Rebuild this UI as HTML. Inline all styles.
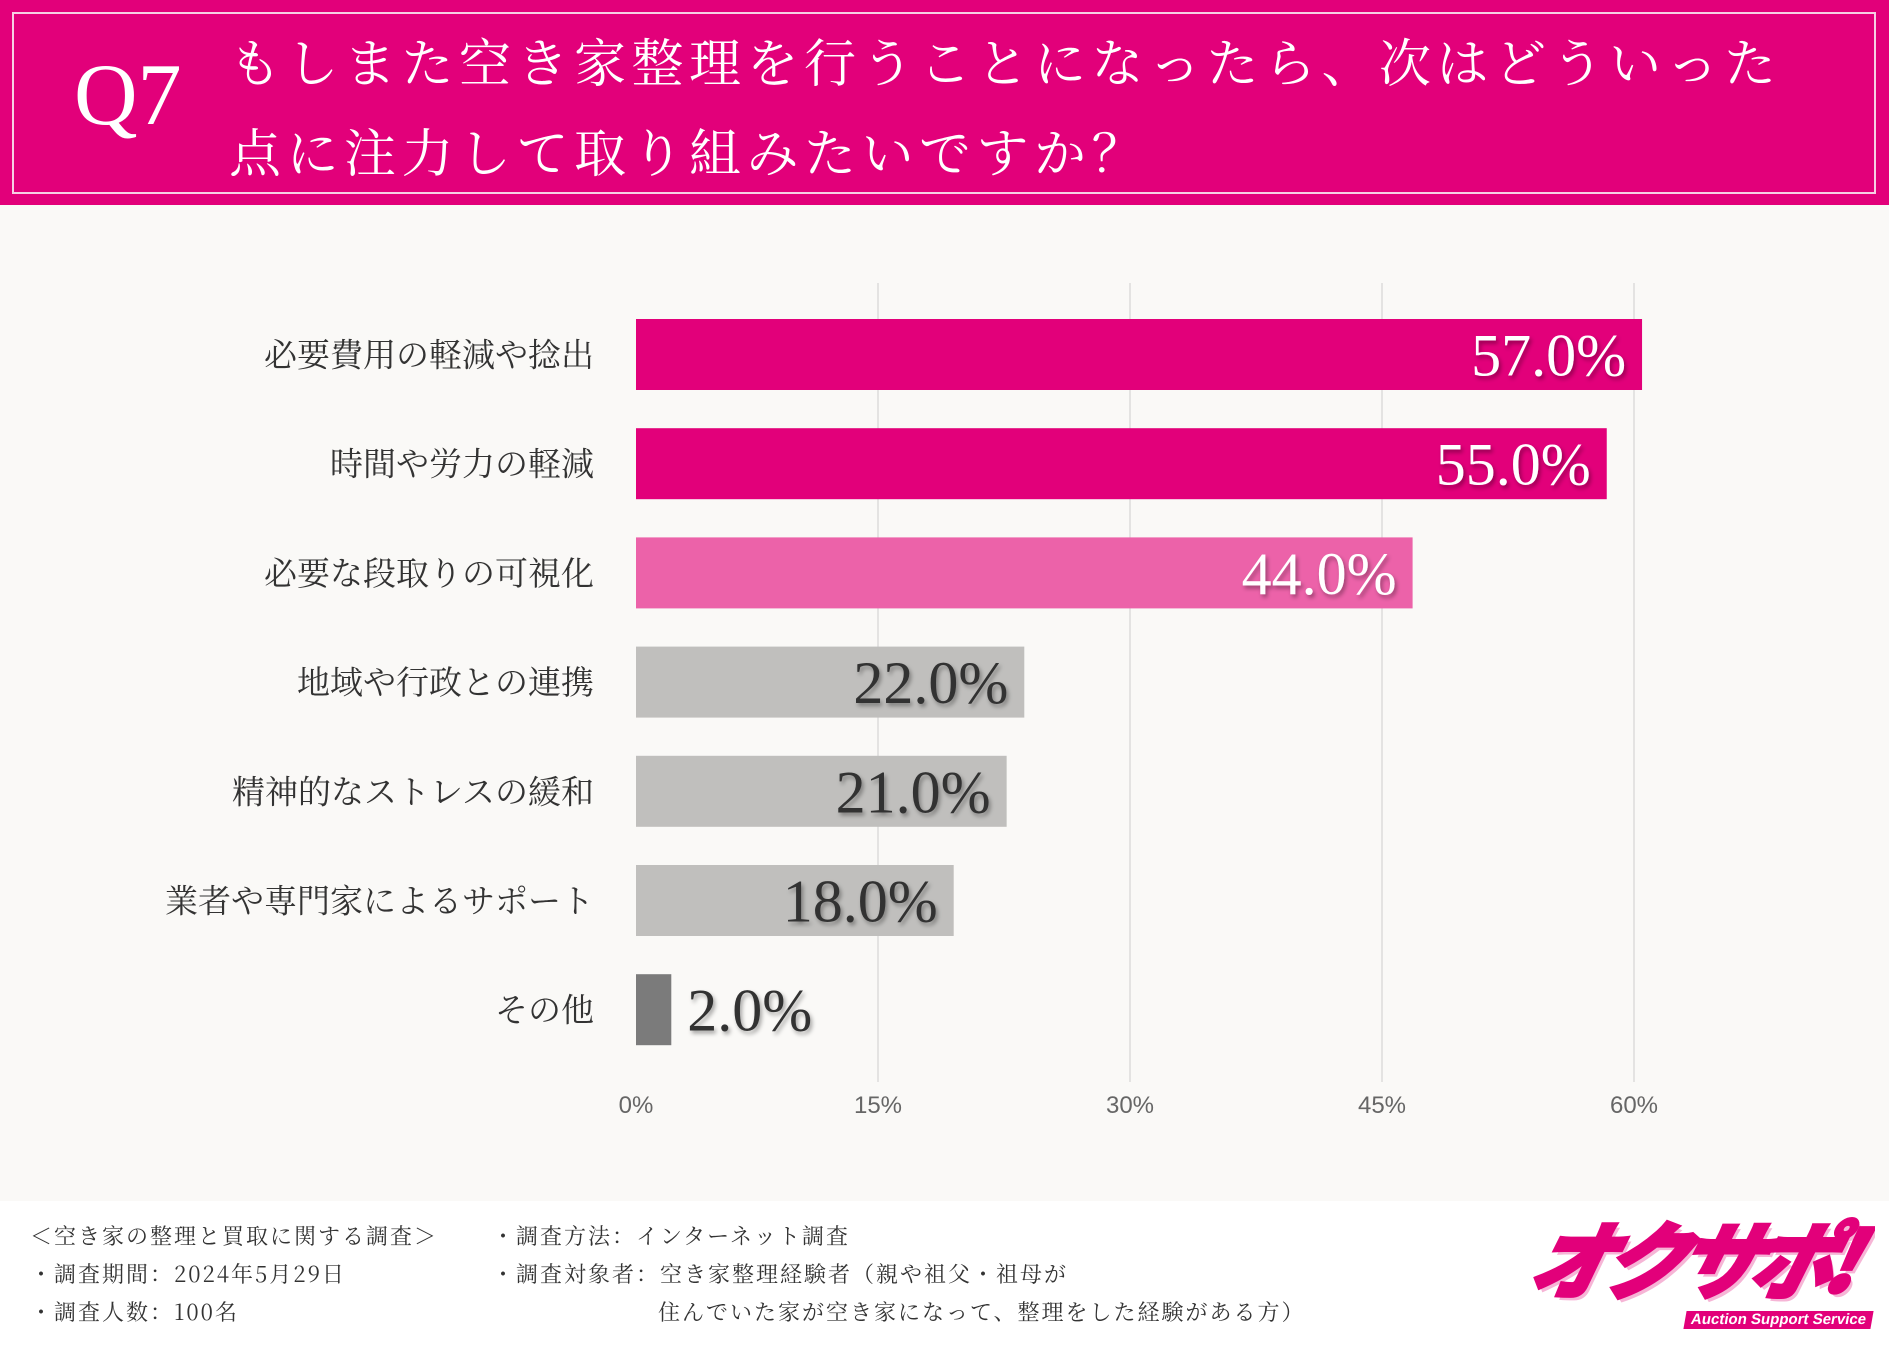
<!DOCTYPE html>
<html><head><meta charset="utf-8"><style>
html,body{margin:0;padding:0;width:1889px;height:1350px;overflow:hidden}
body{position:relative;background:#faf9f7;font-family:"Liberation Serif","Noto Serif CJK SC",serif}
#hdr{position:absolute;left:0;top:0;width:1889px;height:205px;background:#e2007a}
#hdr .bd{position:absolute;left:12px;top:12px;width:1860px;height:178px;border:2px solid #f6cfe3}
#q7{position:absolute;left:74px;top:52px;font-size:88px;color:#fff;font-family:"Liberation Serif",serif;line-height:1}
.tl{position:absolute;left:229px;font-size:52px;color:#fff;font-family:"Noto Serif CJK SC",serif;line-height:1;letter-spacing:5.5px;white-space:nowrap}
#foot{position:absolute;left:0;top:1201px;width:1889px;height:149px;background:#fff;overflow:hidden}
.ft{position:absolute;font-size:22px;color:#333;font-family:"Noto Serif CJK SC",serif;white-space:nowrap;line-height:1;letter-spacing:2px}
</style></head><body>
<div id="hdr"><div class="bd"></div>
<div id="q7">Q7</div>
<div class="tl" style="top:34px">もしまた空き家整理を行うことになったら、次はどういった</div>
<div class="tl" style="top:124px">点に注力して取り組みたいですか？</div>
</div>
<svg id="chart" width="1889" height="1200" style="position:absolute;left:0;top:0"></svg>
<div id="foot">
<div class="ft" style="left:30px;top:24px">＜空き家の整理と買取に関する調査＞</div>
<div class="ft" style="left:30px;top:62px">・調査期間：2024年5月29日</div>
<div class="ft" style="left:30px;top:100px">・調査人数：100名</div>
<div class="ft" style="left:492px;top:24px">・調査方法：インターネット調査</div>
<div class="ft" style="left:492px;top:62px">・調査対象者：空き家整理経験者（親や祖父・祖母が</div>
<div class="ft" style="left:658px;top:100px">住んでいた家が空き家になって、整理をした経験がある方）</div>
<div style="position:absolute;left:1515px;top:14px;width:360px;height:125px;overflow:hidden">
<div style="position:absolute;left:18px;top:-8px;white-space:nowrap;font-family:'Noto Sans CJK JP',sans-serif;font-weight:900;font-style:italic;font-size:84px;line-height:1.2;color:#e2007a;-webkit-text-stroke:3px #e2007a;transform:skewX(-14deg);letter-spacing:-10px;text-shadow:4px 4px 0 #f6b5d6">オクサポ!</div>
<div style="position:absolute;left:170px;top:96px;white-space:nowrap;background:#e2007a;color:#fff;font-family:'Liberation Sans',sans-serif;font-weight:bold;font-size:15px;line-height:18px;padding:0 6px;transform:skewX(-10deg)">Auction Support Service</div>
</div>
</div>
<script>
const categories=["必要費用の軽減や捻出","時間や労力の軽減","必要な段取りの可視化","地域や行政との連携","精神的なストレスの緩和","業者や専門家によるサポート","その他"];
const values=[57,55,44,22,21,18,2];
const ticks=[0,15,30,45,60];
const tickLabels=["0%","15%","30%","45%","60%"];
const NS="http://www.w3.org/2000/svg";
const svg=document.getElementById('chart');
const x0=636;
function xGrid(v){return v<=0?x0:878+(v-15)*(1634-878)/45;}
function xBar(v){return x0+v*17.65;}
function yBar(i){return 319+i*109.2;}
const barH=71;
function mk(t,a){const e=document.createElementNS(NS,t);for(const k in a)e.setAttribute(k,a[k]);svg.appendChild(e);return e;}
const defs=mk('defs',{});
defs.innerHTML='<filter id="sh" x="-10%" y="-10%" width="130%" height="140%"><feDropShadow dx="2" dy="3" stdDeviation="2" flood-color="#000" flood-opacity="0.35"/></filter>';
ticks.forEach((t,i)=>{
  if(t>0){const l=mk('line',{x1:xGrid(t),x2:xGrid(t),y1:283,y2:1082,stroke:'#dcdcdc','stroke-width':1.5});
  
  }
  const tx=mk('text',{x:xGrid(t),y:1113,'text-anchor':'middle','font-size':24,fill:'#666','font-family':'Liberation Sans, sans-serif'});
  tx.textContent=tickLabels[i];
  
  
});
values.forEach((v,i)=>{
  const col=i<2?'#e2007a':(i==2?'#ec62a9':(i<6?'#c0bfbd':'#7b7b7b'));
  const y=yBar(i);
  const r=mk('rect',{x:x0,y:y,width:xBar(v)-x0,height:barH,fill:col});
  
  
  const lb=mk('text',{x:594,y:y+barH/2+12,'text-anchor':'end','font-size':33,fill:'#333','font-family':'Noto Serif CJK SC, serif'});
  lb.textContent=categories[i];
  
  
  const inside=v>10;
  const vt=mk('text',{x:inside?xBar(v)-16:xBar(v)+16,y:y+barH/2+21,'text-anchor':inside?'end':'start','font-size':60,fill:i<3?'#fff':'#333','font-family':'Liberation Serif, serif',filter:'url(#sh)'});
  vt.textContent=v.toFixed(1)+'%';
  
  
});
</script>
</body></html>
